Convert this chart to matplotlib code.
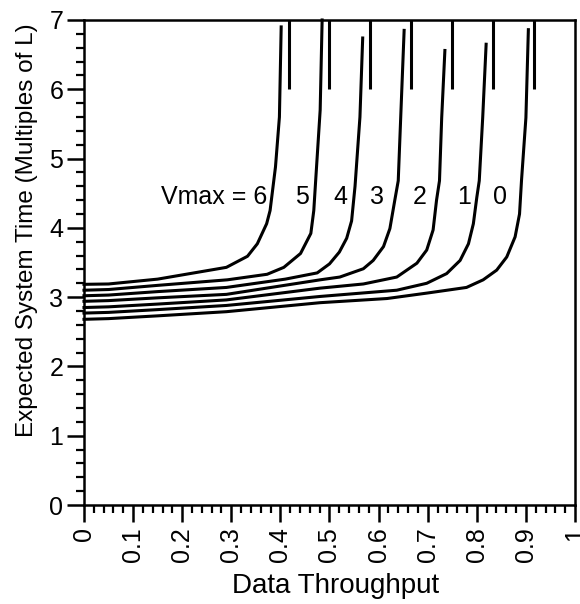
import matplotlib
matplotlib.use("Agg")
import matplotlib.pyplot as plt
from matplotlib.ticker import MultipleLocator, FixedFormatter, FixedLocator

plt.rcParams["font.family"] = ["Liberation Sans", "DejaVu Sans"]

# curves, one per Vmax value
vmax = [6, 5, 4, 3, 2, 1, 0]

x6 = [0, 0.05, 0.15, 0.29, 0.333, 0.353, 0.372, 0.379, 0.39, 0.398, 0.4016]
y6 = [3.185, 3.19, 3.26, 3.43, 3.59, 3.77, 4.06, 4.25, 4.88, 5.6, 6.9]

x5 = [0, 0.05, 0.15, 0.292, 0.373, 0.407, 0.441, 0.462, 0.468, 0.472, 0.481, 0.485]
y5 = [3.10, 3.11, 3.17, 3.25, 3.33, 3.43, 3.63, 3.92, 4.25, 4.7, 5.7, 7.0]

x4 = [0, 0.05, 0.15, 0.29, 0.41, 0.475, 0.50, 0.52, 0.535, 0.545, 0.552, 0.562, 0.5676]
y4 = [3.02, 3.03, 3.08, 3.14, 3.26, 3.35, 3.48, 3.65, 3.85, 4.1, 4.6, 5.6, 6.74]

x3 = [0, 0.05, 0.15, 0.29, 0.481, 0.521, 0.569, 0.589, 0.61, 0.623, 0.633, 0.640, 0.645, 0.652]
y3 = [2.94, 2.95, 2.99, 3.04, 3.25, 3.29, 3.41, 3.53, 3.73, 3.99, 4.40, 4.68, 5.59, 6.85]

x2 = [0, 0.05, 0.15, 0.29, 0.481, 0.569, 0.637, 0.678, 0.698, 0.711, 0.718, 0.724, 0.7285, 0.735]
y2 = [2.85, 2.86, 2.90, 2.96, 3.13, 3.19, 3.29, 3.49, 3.68, 3.97, 4.40, 4.68, 5.59, 6.56]

x1 = [0, 0.05, 0.15, 0.29, 0.481, 0.637, 0.698, 0.7386, 0.766, 0.783, 0.793, 0.80, 0.805, 0.812, 0.819]
y1 = [2.77, 2.78, 2.82, 2.88, 3.01, 3.10, 3.20, 3.34, 3.53, 3.77, 4.06, 4.44, 4.68, 5.59, 6.65]

x0 = [0, 0.05, 0.15, 0.29, 0.481, 0.617, 0.70, 0.779, 0.813, 0.8405, 0.861, 0.878, 0.887, 0.891, 0.900, 0.905]
y0 = [2.68, 2.69, 2.73, 2.79, 2.92, 2.98, 3.06, 3.14, 3.25, 3.39, 3.58, 3.87, 4.2, 4.68, 5.59, 6.86]

# short vertical marks at the top (limits of each curve)
limites = [0.417, 0.5, 0.583, 0.667, 0.75, 0.833, 0.917]

# text labels
rotulos = ["Vmax = 6", "5", "4", "3", "2", "1", "0"]
rot_x = [0.373, 0.444, 0.523, 0.597, 0.684, 0.774, 0.847]
rot_y = 4.44

xticks = [0, 0.1, 0.2, 0.3, 0.4, 0.5, 0.6, 0.7, 0.8, 0.9, 1]
xtick_labels = ["0", "0.1", "0.2", "0.3", "0.4", "0.5", "0.6", "0.7", "0.8", "0.9", "1"]

fig = plt.figure(figsize=(5.8, 6.04), dpi=100)
ax = fig.add_axes([0.1448, 0.1639, 0.9914 - 0.1448, 0.9669 - 0.1639])

lw = 2.2
for xs, ys in [(x6, y6), (x5, y5), (x4, y4), (x3, y3), (x2, y2), (x1, y1), (x0, y0)]:
    ax.plot(xs, ys, color="black", linewidth=lw, solid_joinstyle="round", clip_on=False)

ax.vlines(limites, 6, 7, colors="black", linewidth=lw)

for i, txt in enumerate(rotulos):
    ha = "right" if i == 0 else "center"
    ax.text(rot_x[i], rot_y, txt, ha=ha, va="center", fontsize=18)

ax.set_xlim(0, 1)
ax.set_ylim(0, 7)

ax.xaxis.set_major_locator(FixedLocator(xticks))
ax.xaxis.set_major_formatter(FixedFormatter(xtick_labels))
ax.xaxis.set_minor_locator(MultipleLocator(0.02))
ax.yaxis.set_major_locator(MultipleLocator(1))
ax.yaxis.set_minor_locator(MultipleLocator(0.2))

ax.tick_params(which="major", direction="out", length=12, width=1.8, labelsize=18)
ax.tick_params(which="minor", direction="out", length=5.5, width=1.6)
ax.tick_params(axis="y", which="major", pad=3)
ax.tick_params(axis="x", which="major", pad=4)
for lab in ax.get_xticklabels():
    lab.set_rotation(90)

for s in ax.spines.values():
    s.set_linewidth(1.8)

ax.set_xlabel("Data Throughput", fontsize=20, va="baseline")
ax.xaxis.set_label_coords(0.513, -0.181)
ax.set_ylabel("Expected System Time (Multiples of L)", fontsize=17.5, va="center")
ax.yaxis.set_label_coords(-0.117, 0.567)

fig.savefig("out.png", dpi=100)
